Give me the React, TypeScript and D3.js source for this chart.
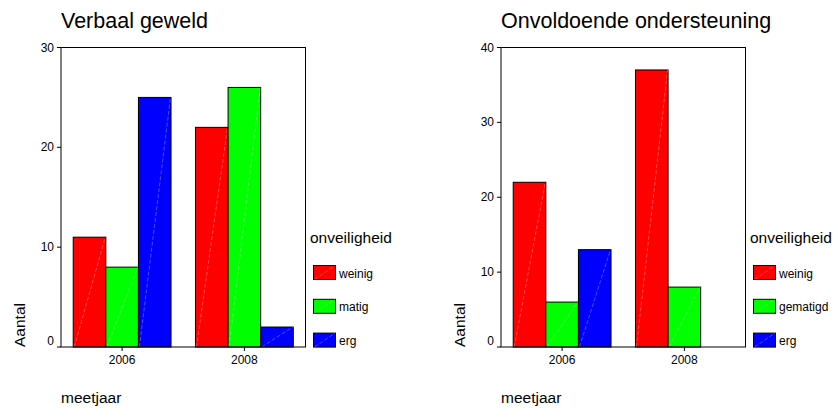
import React from "react";
import * as d3 from "d3";

const years = ["2006", "2008"];
const colors = ["#ff0000", "#00ff00", "#0000ff"];

const titleA = "Verbaal geweld";
const seriesNamesA = ["weinig", "matig", "erg"];
const weinigA = [11, 22];
const matigA = [8, 26];
const ergA = [25, 2];
const yTicksA = [0, 10, 20, 30];

const titleB = "Onvoldoende ondersteuning";
const seriesNamesB = ["weinig", "gematigd", "erg"];
const weinigB = [22, 37];
const gematigdB = [6, 8];
const ergB = [13, 0];
const yTicksB = [0, 10, 20, 30, 40];

const FONT = "'Liberation Sans', Arial, sans-serif";

type PanelProps = {
  ox: number;
  title: string;
  names: string[];
  series: number[][];
  ticks: number[];
};

function Panel({ ox, title, names, series, ticks }: PanelProps) {
  const left = 61, right = 305.5, top = 47.5, bottom = 347;
  const yMax = ticks[ticks.length - 1];
  const y = d3.scaleLinear().domain([0, yMax]).range([bottom, top]);
  const x0 = d3.scaleBand().domain(years).range([left, right]).paddingInner(0.2).paddingOuter(0.1);
  const x1 = d3.scaleBand().domain(names).range([0, x0.bandwidth()]);
  return (
    <g transform={`translate(${ox},0)`} fontFamily={FONT}>
      <text x={left} y={28} fontSize={21.5} fill="#000">{title}</text>
      {series.map((vals, si) =>
        vals.map((v, gi) => {
          if (v <= 0) return null;
          const bx = (x0(years[gi]) as number) + (x1(names[si]) as number);
          const bw = x1.bandwidth();
          const by = y(v);
          return (
            <g key={`${si}-${gi}`}>
              <rect x={bx} y={by} width={bw} height={bottom - by} fill={colors[si]} stroke="#000" strokeWidth={1} />
              <line x1={bx + 1} y1={bottom} x2={bx + bw - 0.5} y2={by} stroke="#fff" strokeOpacity={0.5} strokeWidth={0.6} strokeDasharray="4,2" />
            </g>
          );
        })
      )}
      <rect x={left} y={top} width={right - left} height={bottom - top} fill="none" stroke="#000" strokeWidth={1} />
      {ticks.map((t) => (
        <g key={t}>
          <line x1={left - 4} x2={left} y1={y(t)} y2={y(t)} stroke="#000" />
          <text x={left - 7} y={y(t) + (t === 0 ? -2 : 4)} fontSize={12} textAnchor="end" fill="#000">{t}</text>
        </g>
      ))}
      {years.map((yr) => {
        const cx = (x0(yr) as number) + x0.bandwidth() / 2;
        return (
          <g key={yr}>
            <line x1={cx} x2={cx} y1={bottom} y2={bottom + 4} stroke="#000" />
            <text x={cx} y={364} fontSize={12} textAnchor="middle" fill="#000">{yr}</text>
          </g>
        );
      })}
      <text transform={`translate(24.5,${bottom}) rotate(-90)`} fontSize={15.5} fill="#000">Aantal</text>
      <text x={left} y={403} fontSize={15.5} fill="#000">meetjaar</text>
      <text x={310} y={242.5} fontSize={15.5} fill="#000">onveiligheid</text>
      {names.map((n, i) => {
        const sy = 265.5 + i * 33.8;
        return (
          <g key={n}>
            <rect x={313.5} y={sy} width={22} height={14} fill={colors[i]} stroke="#000" strokeWidth={1} />
            <line x1={314.5} y1={sy + 14} x2={335} y2={sy} stroke="#fff" strokeOpacity={0.5} strokeWidth={0.6} strokeDasharray="4,2" />
            <text x={339} y={sy + 12} fontSize={12} fill="#000">{n}</text>
          </g>
        );
      })}
    </g>
  );
}

export default function App() {
  return (
    <svg width={835} height={409} style={{ position: "absolute", left: 0, top: 0, background: "#fff" }}>
      <rect width={835} height={409} fill="#fff" />
      <Panel ox={0} title={titleA} names={seriesNamesA} series={[weinigA, matigA, ergA]} ticks={yTicksA} />
      <Panel ox={440} title={titleB} names={seriesNamesB} series={[weinigB, gematigdB, ergB]} ticks={yTicksB} />
    </svg>
  );
}
